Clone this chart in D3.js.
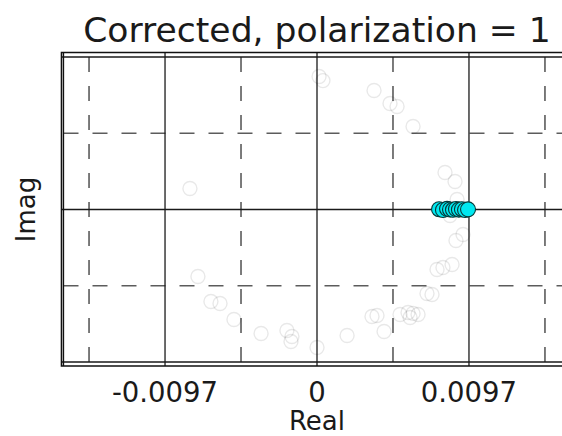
<!DOCTYPE html>
<html lang="en">
<head>
<meta charset="UTF-8">
<title>Corrected, polarization = 1</title>
<script src="https://d3js.org/d3.v7.min.js"></script>
<style>
    body { margin: 0; background: #fff; }
    svg { display: block; font-family: "DejaVu Sans", sans-serif; }
</style>
</head>
<body>
<div id="chart"></div>
<script>
// background points (all iterations, faint)
const allReal = [-0.00811, -0.00760, -0.00677, -0.00619, -0.00530, -0.00357, -0.00192, -0.00160, -0.00166, 0.00000,
                 0.00013, 0.00038, 0.00364, 0.00466, 0.00511, 0.00613, 0.00817, 0.00881, 0.00894, 0.00849,
                 0.00932, 0.00887, 0.00766, 0.00804, 0.00862, 0.00702, 0.00734, 0.00530, 0.00581, 0.00613,
                 0.00645, 0.00594, 0.00351, 0.00383, 0.00428, 0.00192];
const allImag = [0.00134, -0.00426, -0.00585, -0.00598, -0.00700, -0.00789, -0.00770, -0.00808, -0.00840, -0.00878,
                 0.00846, 0.00820, 0.00757, 0.00674, 0.00655, 0.00528, 0.00235, 0.00178, 0.00064, -0.00038,
                 -0.00159, -0.00197, -0.00382, -0.00369, -0.00350, -0.00534, -0.00541, -0.00668, -0.00655, -0.00661,
                 -0.00668, -0.00687, -0.00681, -0.00674, -0.00776, -0.00801];

// corrected points
const corrReal = [0.00779, 0.00804, 0.00830, 0.00849, 0.00868, 0.00887, 0.00906, 0.00925, 0.00945, 0.00964];
const corrImag = [0.00002, -0.00003, 0.00004, 0.00000, -0.00002, 0.00003, -0.00001, 0.00002, -0.00003, 0.00001];

const majorTicks = [-0.0194, -0.0097, 0, 0.0097, 0.0194];
const minorTicks = [-0.01455, -0.00485, 0.00485, 0.01455];
const xTickLabels = ["", "-0.0097", "0", "0.0097", ""];
const yMajor = [-0.0097, 0, 0.0097];
const yMinor = [-0.00485, 0.00485];

const width = 562, height = 436;
const inner = { left: 63.5, top: 57, bottom: 362, right: 570.5 };
const outer = { left: 61.5, top: 52.5, bottom: 366 };

const x = d3.scaleLinear().domain([-0.01618, 0.01618]).range([inner.left, inner.right]);
const y = d3.scaleLinear().domain([-0.0097, 0.0097]).range([inner.bottom, inner.top]);

const svg = d3.select("#chart").append("svg")
    .attr("width", width)
    .attr("height", height);

const inX = v => x(v) > inner.left && x(v) < width + 20;

// minor grid (dashed)
svg.append("g").selectAll("line")
    .data(minorTicks.filter(inX))
    .join("line")
    .attr("x1", d => x(d)).attr("x2", d => x(d))
    .attr("y1", inner.top).attr("y2", inner.bottom)
    .attr("stroke", "#5c5c5c").attr("stroke-width", 1.6)
    .attr("stroke-dasharray", "15,14");

svg.append("g").selectAll("line")
    .data(yMinor)
    .join("line")
    .attr("x1", inner.left).attr("x2", width)
    .attr("y1", d => y(d)).attr("y2", d => y(d))
    .attr("stroke", "#5c5c5c").attr("stroke-width", 1.6)
    .attr("stroke-dasharray", "15,14");

// major grid (solid)
svg.append("g").selectAll("line")
    .data(majorTicks.filter(inX))
    .join("line")
    .attr("x1", d => x(d)).attr("x2", d => x(d))
    .attr("y1", outer.top).attr("y2", outer.bottom)
    .attr("stroke", "#1a1a1a").attr("stroke-width", 1.3);

svg.append("g").selectAll("line")
    .data(yMajor)
    .join("line")
    .attr("x1", outer.left).attr("x2", width)
    .attr("y1", d => y(d)).attr("y2", d => y(d))
    .attr("stroke", "#1a1a1a").attr("stroke-width", 1.3);

// frame
svg.append("path")
    .attr("d", `M${width + 5},${outer.top}H${outer.left}V${outer.bottom}H${width + 5}`)
    .attr("fill", "none").attr("stroke", "#111").attr("stroke-width", 1.6);
svg.append("line")
    .attr("x1", inner.left).attr("x2", inner.left)
    .attr("y1", outer.top).attr("y2", outer.bottom)
    .attr("stroke", "#111").attr("stroke-width", 1.3);

// faint points
svg.append("g").selectAll("circle")
    .data(allReal.map((r, i) => [r, allImag[i]]))
    .join("circle")
    .attr("cx", d => x(d[0]))
    .attr("cy", d => y(d[1]))
    .attr("r", 7)
    .attr("fill", "none")
    .attr("stroke", "#000")
    .attr("stroke-opacity", 0.09)
    .attr("stroke-width", 1.4);

// corrected points
svg.append("g").selectAll("circle")
    .data(corrReal.map((r, i) => [r, corrImag[i]]))
    .join("circle")
    .attr("cx", d => x(d[0]))
    .attr("cy", d => y(d[1]))
    .attr("r", 7.5)
    .attr("fill", "#00e8f0")
    .attr("stroke", "#083838")
    .attr("stroke-width", 1.1);

// tick labels
svg.append("g").selectAll("text")
    .data(majorTicks.map((t, i) => [t, xTickLabels[i]]).filter(d => d[1] !== ""))
    .join("text")
    .attr("x", d => x(d[0]))
    .attr("y", 402)
    .attr("text-anchor", "middle")
    .attr("font-size", 27.5)
    .attr("fill", "#1a1a1a")
    .text(d => d[1]);

svg.append("text")
    .attr("x", x(0)).attr("y", 430)
    .attr("text-anchor", "middle")
    .attr("font-size", 26)
    .attr("fill", "#1a1a1a")
    .text("Real");

svg.append("text")
    .attr("transform", `translate(35,${y(0)}) rotate(-90)`)
    .attr("text-anchor", "middle")
    .attr("font-size", 26)
    .attr("fill", "#1a1a1a")
    .text("Imag");

svg.append("text")
    .attr("x", x(0)).attr("y", 42)
    .attr("text-anchor", "middle")
    .attr("font-size", 34.6)
    .attr("fill", "#1a1a1a")
    .text("Corrected, polarization = 1");
</script>
</body>
</html>
